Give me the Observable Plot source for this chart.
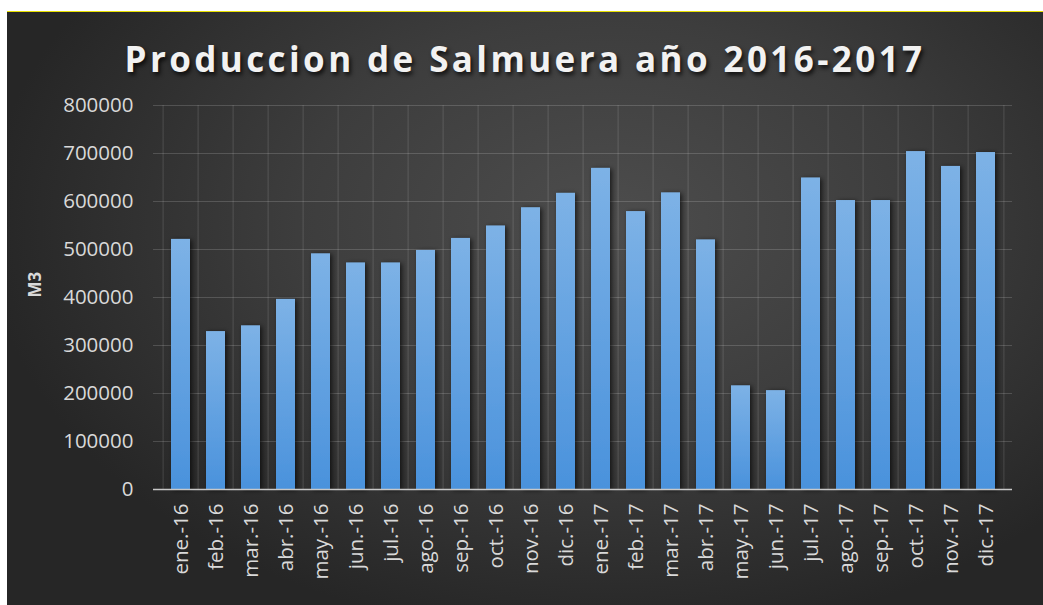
<!DOCTYPE html>
<html>
<head>
<meta charset="utf-8">
<script src="https://cdn.jsdelivr.net/npm/d3@7"></script>
<script src="https://cdn.jsdelivr.net/npm/@observablehq/plot@0.6"></script>
<style>
  html, body { margin: 0; padding: 0; background: #ffffff; }
  #wrap {
    position: absolute; left: 7px; top: 11px; width: 1036px; height: 594px;
    background: radial-gradient(ellipse 60% 70% at 58% 36%, #4d4d4d 0%, #3d3d3d 50%, #262626 100%);
    border-top: 1px solid #e8e000;
    box-sizing: border-box;
    overflow: hidden;
  }
  #title {
    position: absolute; left: 0; top: 0; width: 100%; height: 70px;
    text-align: center; line-height: 94px;
    font-family: "Open Sans", sans-serif; font-weight: 700; font-size: 35px;
    letter-spacing: 3.4px; color: #f2f2f2;
    text-shadow: 2px 3px 4px rgba(0,0,0,0.75);
  }
  #chart { position: absolute; left: 0; top: 70px; }
</style>
</head>
<body>
<div id="wrap">
  <div id="title">Produccion de Salmuera año 2016-2017</div>
  <div id="chart"></div>
</div>
<script>
const months = ["ene.-16","feb.-16","mar.-16","abr.-16","may.-16","jun.-16","jul.-16","ago.-16","sep.-16","oct.-16","nov.-16","dic.-16",
                "ene.-17","feb.-17","mar.-17","abr.-17","may.-17","jun.-17","jul.-17","ago.-17","sep.-17","oct.-17","nov.-17","dic.-17"];
const values = [521000, 329000, 341000, 396000, 491000, 472000, 472000, 498000, 523000, 549000, 587000, 617000,
                669000, 579000, 618000, 520000, 216000, 206000, 649000, 602000, 602000, 704000, 673000, 702000];
const yTicks = [0, 100000, 200000, 300000, 400000, 500000, 600000, 700000, 800000];
const yLabel = "M3";

const data = months.map((m, i) => ({month: m, value: values[i]}));

const W = 1036, H = 524;
const mL = 146, mR = 31, mT = 23, mB = 117;
const step = (W - mL - mR) / months.length;

const chart = Plot.plot({
  width: W, height: H,
  marginLeft: mL, marginRight: mR, marginTop: mT, marginBottom: mB,
  style: {background: "transparent", color: "#d9d9d9", fontFamily: "'Open Sans', sans-serif", overflow: "visible"},
  x: {domain: months, padding: 0.46, label: null},
  y: {domain: [0, 800000], ticks: yTicks, label: null},
  marks: [
    Plot.ruleY(yTicks, {stroke: "#ffffff", strokeOpacity: 0.16, strokeWidth: 1}),
    Plot.ruleX(months, {x: d => d, dx: -step / 2, stroke: "#ffffff", strokeOpacity: 0.14}),
    Plot.ruleX(months.slice(-1), {x: d => d, dx: step / 2, stroke: "#ffffff", strokeOpacity: 0.14}),
    Plot.barY(data, {x: "month", y: "value", fill: "url(#barGrad)"}),
    Plot.ruleY([0], {stroke: "#c8c8c8", strokeWidth: 1.5}),
    Plot.axisY({ticks: yTicks, tickSize: 0, tickPadding: 20, fontSize: 20.5, tickFormat: d => String(d), fill: "#d9d9d9"}),
    Plot.axisX({tickSize: 0, tickPadding: 14, tickRotate: -90, fontSize: 20.5, fill: "#d9d9d9"}),
    Plot.text([yLabel], {frameAnchor: "left", dx: -118, rotate: -90, text: d => d, fontSize: 17, fontWeight: "bold", fill: "#d9d9d9"})
  ]
});

const svg = d3.select(chart);
const defs = svg.insert("defs", ":first-child");
const g = defs.append("linearGradient").attr("id", "barGrad").attr("x1", 0).attr("y1", 0).attr("x2", 0).attr("y2", 1);
g.append("stop").attr("offset", "0%").attr("stop-color", "#7db2e6");
g.append("stop").attr("offset", "100%").attr("stop-color", "#4a92dc");
const f = defs.append("filter").attr("id", "shadow").attr("x", "-30%").attr("y", "-10%").attr("width", "160%").attr("height", "120%");
f.append("feDropShadow").attr("dx", 2).attr("dy", 1).attr("stdDeviation", 2.5).attr("flood-color", "#000").attr("flood-opacity", 0.65);
svg.selectAll("g[aria-label=bar] rect").attr("filter", "url(#shadow)").attr("fill", "url(#barGrad)");

document.getElementById("chart").appendChild(chart);
</script>
</body>
</html>
